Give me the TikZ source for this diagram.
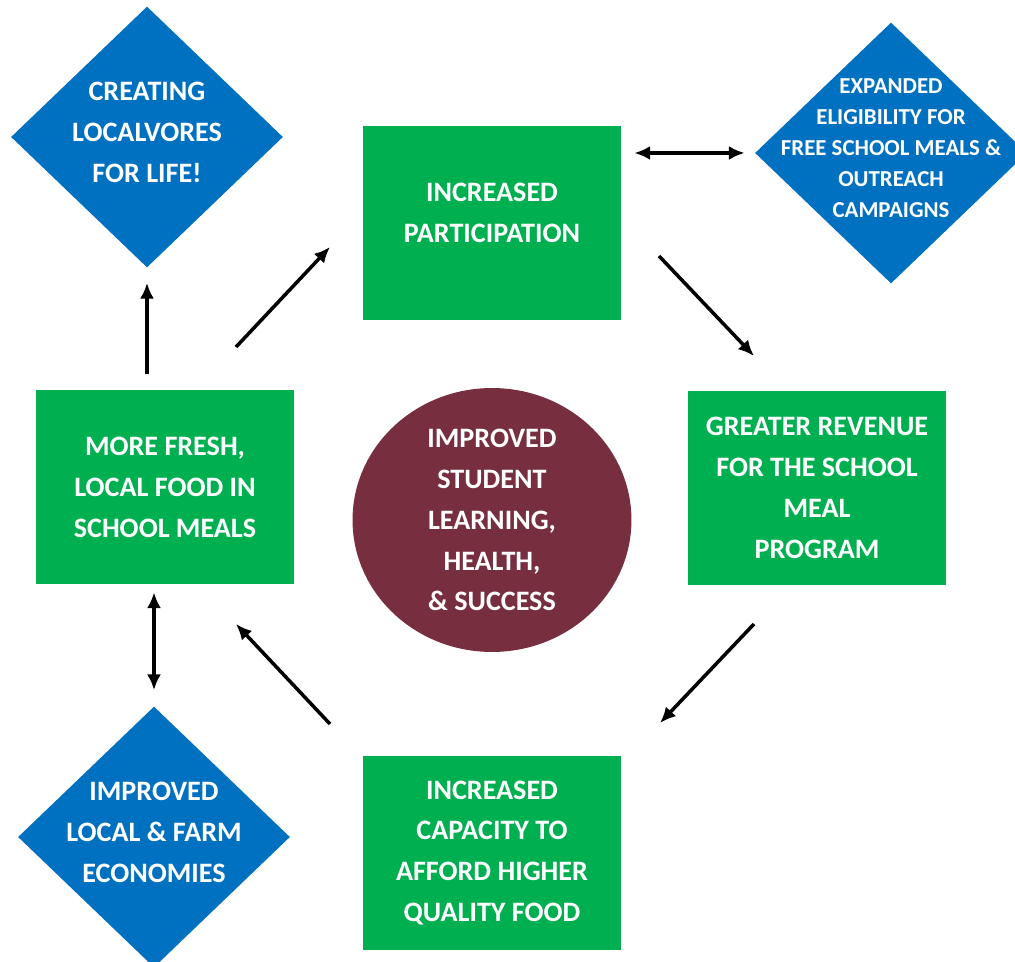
\documentclass[tikz,border=0pt]{standalone}
\usepackage{fontspec}
\setmainfont{Carlito}
\usetikzlibrary{positioning,shapes.geometric,arrows.meta}
\definecolor{boxgreen}{HTML}{00B050}
\definecolor{gemblue}{HTML}{0070C0}
\definecolor{hubred}{HTML}{772F40}

\begin{document}
\begin{tikzpicture}[x=0.02cm, y=-0.02cm,
    box/.style={fill=boxgreen, minimum width=5.16cm, minimum height=3.88cm,
        inner sep=0pt, align=center, text=white,
        font=\fontsize{16}{23.3}\selectfont\bfseries},
    gem/.style={diamond, fill=gemblue, minimum width=5.44cm, minimum height=5.22cm, inner sep=0pt},
    gem_text/.style={align=center, text=white, yshift=0.1cm,
        font=\fontsize{16}{23.3}\selectfont\bfseries},
    gem_small/.style={gem_text, font=\fontsize{13}{17.6}\selectfont\bfseries},
    hub/.style={ellipse, fill=hubred, minimum width=5.58cm, minimum height=5.28cm,
        inner sep=0pt, align=center, text=white,
        font=\fontsize{16}{23.3}\selectfont\bfseries},
    arr/.style={line width=2pt, -{Latex[length=9pt, width=8pt]}},
    arr2/.style={line width=2pt, {Latex[length=9pt, width=8pt]}-{Latex[length=9pt, width=8pt]}}
]
    \useasboundingbox (0,0) rectangle (1015,962);
    % Caixas
    \node[box, text depth=0.4cm] (part) at (492,223) {INCREASED\\PARTICIPATION};
    \node[box] (fresh) at (165,487) {MORE FRESH,\\LOCAL FOOD IN\\SCHOOL MEALS};
    \node[box] (rev) at (817,488) {GREATER REVENUE\\FOR THE SCHOOL\\MEAL\\PROGRAM};
    \node[box] (cap) at (492,853) {INCREASED\\CAPACITY TO\\AFFORD HIGHER\\QUALITY FOOD};
    \node[hub] (hub) at (492,520) {IMPROVED\\STUDENT\\LEARNING,\\HEALTH,\\\& SUCCESS};
    % Losangos
    \node[gem] (life) at (147,137) {};
    \node[gem_text] (life_t) at (life) {CREATING\\LOCALVORES\\FOR LIFE!};
    \node[gem] (elig) at (891,153) {};
    \node[gem_small] (elig_t) at (elig) {EXPANDED\\ELIGIBILITY FOR\\FREE SCHOOL MEALS \&\\OUTREACH\\CAMPAIGNS};
    \node[gem] (econ) at (154,837) {};
    \node[gem_text] (econ_t) at (econ) {IMPROVED\\LOCAL \& FARM\\ECONOMIES};
    % Setas
    \coordinate (fp_a) at (236,347);
    \coordinate (fp_b) at (330,247);
    \coordinate (pr_a) at (659,256);
    \coordinate (pr_b) at (754,356);
    \coordinate (rc_a) at (754,624);
    \coordinate (rc_b) at (660,723);
    \coordinate (cf_a) at (330,724);
    \coordinate (cf_b) at (236,624);
    \draw[arr, shorten <=0.32cm, shorten >=0.3cm] (fresh.north -| life.south) -- (life.south);
    \draw[arr] (fp_a) -- (fp_b);
    \draw[arr2, shorten <=0.26cm, shorten >=0.2cm] (part.east |- elig.west) -- (elig.west);
    \draw[arr] (pr_a) -- (pr_b);
    \draw[arr] (rc_a) -- (rc_b);
    \draw[arr] (cf_a) -- (cf_b);
    \draw[arr2, shorten <=0.16cm, shorten >=0.32cm] (fresh.south -| econ.north) -- (econ.north);
\end{tikzpicture}
\end{document}
